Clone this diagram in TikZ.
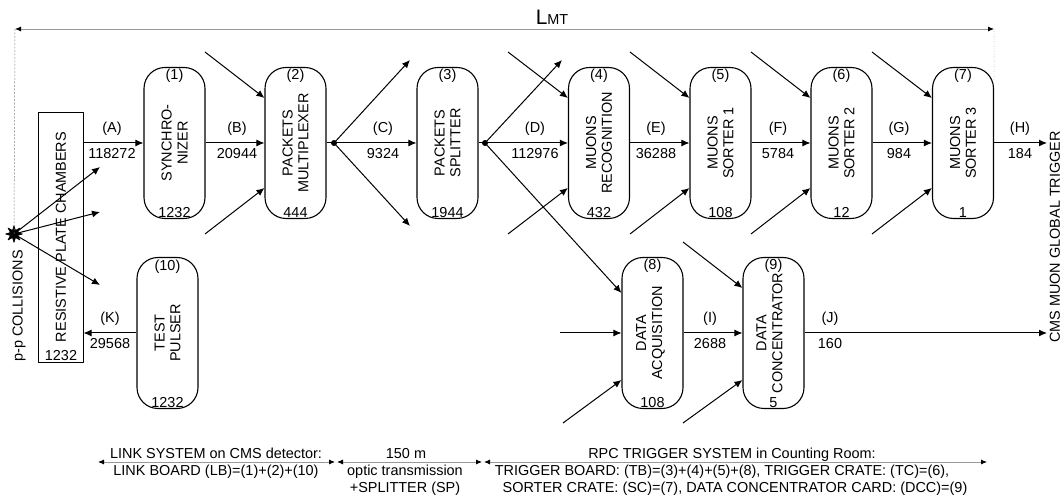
\documentclass[tikz,border=0pt]{standalone}
\usepackage{fontspec}
\setmainfont{Liberation Sans}
\usetikzlibrary{arrows.meta,shapes.geometric}
\tikzset{
  blk/.style={draw,rectangle,rounded corners=21bp,minimum width=61bp,minimum height=151bp,line width=1.1bp},
  rtxt/.style={rotate=90,align=center,inner sep=0pt},
  lbl/.style={anchor=base,inner sep=0pt},
  dim/.style={gray!80,line width=0.8bp,{Latex[length=6bp,width=5bp,color=black]}-{Latex[length=6bp,width=5bp,color=black]}},
}
\begin{document}
\begin{tikzpicture}[>={Latex[length=8bp,width=7bp]},line join=bevel,line width=1bp,font=\fontsize{14.5}{16}\selectfont]
    \useasboundingbox (0bp,0bp) rectangle (1062bp,499bp);
    %%
    \node (pp) at (14bp,265bp) [star,star points=8,star point ratio=2.2,fill,draw,line width=0.6bp,minimum size=17bp,inner sep=0pt] {};
    \node (ppt) at (19bp,193bp) [rtxt] {p-p COLLISIONS};
    \node (rpc) at (60.5bp,261bp) [draw,rectangle,minimum width=45bp,minimum height=250bp,line width=1bp] {};
    \node (rpct) at (61bp,262bp) [rtxt] {RESISTIVE PLATE CHAMBERS};
    \node (rpcn) at (61bp,138bp) [lbl] {1232};
    %
    \node (1) at (174.5bp,356bp) [blk] {};
    \node (2) at (295.5bp,356bp) [blk] {};
    \node (3) at (447.5bp,356bp) [blk] {};
    \node (4) at (599bp,356bp) [blk] {};
    \node (5) at (720.5bp,356bp) [blk] {};
    \node (6) at (841.5bp,356bp) [blk] {};
    \node (7) at (963bp,356bp) [blk] {};
    \node (8) at (652.5bp,166bp) [blk] {};
    \node (9) at (773.5bp,166bp) [blk] {};
    \node (10) at (167.5bp,166bp) [blk] {};
    \node (s1) at (334bp,356bp) [circle,fill,inner sep=0pt,minimum size=6bp] {};
    \node (s2) at (485bp,356bp) [circle,fill,inner sep=0pt,minimum size=6bp] {};
    %
    \node (1t) at (1) [rtxt] {SYNCHRO-\\NIZER};
    \node (2t) at (2) [rtxt] {PACKETS\\MULTIPLEXER};
    \node (3t) at (3) [rtxt] {PACKETS\\SPLITTER};
    \node (4t) at (4) [rtxt] {MUONS\\RECOGNITION};
    \node (5t) at (5) [rtxt] {MUONS\\SORTER 1};
    \node (6t) at (6) [rtxt] {MUONS\\SORTER 2};
    \node (7t) at (7) [rtxt] {MUONS\\SORTER 3};
    \node (8t) at ([xshift=-2bp]8.center) [rtxt] {DATA\\ACQUISITION};
    \node (9t) at ([xshift=-4bp]9.center) [rtxt] {DATA\\CONCENTRATOR};
    \node (10t) at (10) [rtxt] {TEST\\PULSER};
    %
    \node (1a) at ([yshift=-12.5bp]1.north) [lbl] {(1)};
    \node (2a) at ([yshift=-12.5bp]2.north) [lbl] {(2)};
    \node (3a) at ([yshift=-12.5bp]3.north) [lbl] {(3)};
    \node (4a) at ([yshift=-12.5bp]4.north) [lbl] {(4)};
    \node (5a) at ([yshift=-12.5bp]5.north) [lbl] {(5)};
    \node (6a) at ([yshift=-12.5bp]6.north) [lbl] {(6)};
    \node (7a) at ([yshift=-12.5bp]7.north) [lbl] {(7)};
    \node (8a) at ([yshift=-13bp]8.north) [lbl] {(8)};
    \node (9a) at ([yshift=-13bp]9.north) [lbl] {(9)};
    \node (10a) at ([yshift=-14bp]10.north) [lbl] {(10)};
    \node (1b) at ([yshift=1.5bp]1.south) [lbl] {1232};
    \node (2b) at ([yshift=1.5bp]2.south) [lbl] {444};
    \node (3b) at ([yshift=1.5bp]3.south) [lbl] {1944};
    \node (4b) at ([yshift=1.5bp]4.south) [lbl] {432};
    \node (5b) at ([yshift=1.5bp]5.south) [lbl] {108};
    \node (6b) at ([yshift=1.5bp]6.south) [lbl] {12};
    \node (7b) at ([yshift=1.5bp]7.south) [lbl] {1};
    \node (8b) at ([yshift=1.5bp]8.south) [lbl] {108};
    \node (9b) at ([yshift=1.5bp]9.south) [lbl] {5};
    \node (10b) at ([yshift=1.5bp]10.south) [lbl] {1232};
    %
    \coordinate (st1) at (100bp,332bp);
    \coordinate (st2) at (100bp,287bp);
    \coordinate (st3) at (100bp,214bp);
    \coordinate (i2a) at (205bp,447bp);
    \coordinate (i2b) at (205bp,265bp);
    \coordinate (c1a) at (410bp,439bp);
    \coordinate (c1b) at (410bp,273bp);
    \coordinate (c2a) at (562bp,439bp);
    \coordinate (i4a) at (508bp,447bp);
    \coordinate (i4b) at (508bp,265bp);
    \coordinate (i5a) at (630bp,447bp);
    \coordinate (i5b) at (630bp,265bp);
    \coordinate (i6a) at (751bp,447bp);
    \coordinate (i6b) at (751bp,265bp);
    \coordinate (i7a) at (872bp,447bp);
    \coordinate (i7b) at (872bp,265bp);
    \coordinate (i8h) at (560bp,166bp);
    \coordinate (i8b) at (563bp,76bp);
    \coordinate (i9a) at (683bp,257bp);
    \coordinate (i9b) at (683bp,76bp);
    \coordinate (gt1) at (1047bp,356bp);
    \coordinate (gt2) at (1047bp,166bp);
    %
    \draw [->] (pp.center) -- (st1);
    \draw [->] (pp.center) -- (st2);
    \draw [->] (pp.center) -- (st3);
    \draw [->] (rpc.east |- 1.west) -- (1.west);
    \draw [->] (1) -- (2);
    \draw [] (2.east) -- (s1.center);
    \draw [->] (s1.center) -- (3.west);
    \draw [->] (s1.center) -- (c1a);
    \draw [->] (s1.center) -- (c1b);
    \draw [] (3.east) -- (s2.center);
    \draw [->] (s2.center) -- (4.west);
    \draw [->] (s2.center) -- (c2a);
    \draw [->] (s2.center) -- ([yshift=40bp]8.west);
    \draw [->] (4) -- (5);
    \draw [->] (5) -- (6);
    \draw [->] (6) -- (7);
    \draw [->] (7.east) -- (gt1);
    \draw [->] (8) -- (9);
    \draw [->] (9.east) -- (gt2);
    \draw [->] (10.west) -- (10.west -| rpc.east);
    \draw [->] (i2a) -- ([yshift=45bp]2.west);
    \draw [->] (i2b) -- ([yshift=-45bp]2.west);
    \draw [->] (i4a) -- ([yshift=45bp]4.west);
    \draw [->] (i4b) -- ([yshift=-45bp]4.west);
    \draw [->] (i5a) -- ([yshift=45bp]5.west);
    \draw [->] (i5b) -- ([yshift=-45bp]5.west);
    \draw [->] (i6a) -- ([yshift=45bp]6.west);
    \draw [->] (i6b) -- ([yshift=-45bp]6.west);
    \draw [->] (i7a) -- ([yshift=45bp]7.west);
    \draw [->] (i7b) -- ([yshift=-45bp]7.west);
    \draw [->] (i8h) -- (8.west);
    \draw [->] (i8b) -- ([yshift=-47bp]8.west);
    \draw [->] (i9a) -- ([yshift=45bp]9.west);
    \draw [->] (i9b) -- ([yshift=-47bp]9.west);
    %
    \node (lA) at (112bp,366bp) [lbl] {(A)};
    \node (nA) at (112bp,340bp) [lbl] {118272};
    \node (lB) at (237bp,366bp) [lbl] {(B)};
    \node (nB) at (237bp,340bp) [lbl] {20944};
    \node (lC) at (383bp,366bp) [lbl] {(C)};
    \node (nC) at (383bp,340bp) [lbl] {9324};
    \node (lD) at (535bp,366bp) [lbl] {(D)};
    \node (nD) at (535bp,340bp) [lbl] {112976};
    \node (lE) at (656bp,366bp) [lbl] {(E)};
    \node (nE) at (656bp,340bp) [lbl] {36288};
    \node (lF) at (778bp,366bp) [lbl] {(F)};
    \node (nF) at (778bp,340bp) [lbl] {5784};
    \node (lG) at (899bp,366bp) [lbl] {(G)};
    \node (nG) at (899bp,340bp) [lbl] {984};
    \node (lH) at (1020bp,366bp) [lbl] {(H)};
    \node (nH) at (1020bp,340bp) [lbl] {184};
    \node (lK) at (110bp,176bp) [lbl] {(K)};
    \node (nK) at (110bp,150bp) [lbl] {29568};
    \node (lI) at (710bp,176bp) [lbl] {(I)};
    \node (nI) at (710bp,150bp) [lbl] {2688};
    \node (lJ) at (830bp,176bp) [lbl] {(J)};
    \node (nJ) at (830bp,150bp) [lbl] {160};
    \node (gtt) at (1055bp,262bp) [rtxt] {CMS MUON GLOBAL TRIGGER};
    %
    \coordinate (lm1) at (15bp,470bp);
    \coordinate (lm2) at (994bp,470bp);
    \draw [dim] (lm1) -- (lm2);
    \draw [gray,line width=0.5bp,dash pattern=on 2bp off 1.5bp] (lm1) -- (pp.center);
    \draw [gray,line width=0.5bp,dotted] (lm2) -- ([yshift=-14bp]7.north east);
    \node (lmt) at (552bp,474bp) [lbl] {{\fontsize{21}{21}\selectfont L}{\fontsize{14.5}{14.5}\selectfont MT}};
    %
    \coordinate (b0) at (98bp,37bp);
    \coordinate (b1) at (335bp,37bp);
    \coordinate (b2) at (337bp,37bp);
    \coordinate (b3) at (482bp,37bp);
    \coordinate (b4) at (484bp,37bp);
    \coordinate (b5) at (987bp,37bp);
    \draw [dim] (b0) -- (b1);
    \draw [dim] (b2) -- (b3);
    \draw [dim] (b4) -- (b5);
    \node (ls1) at (216bp,40bp) [lbl] {LINK SYSTEM on CMS detector:};
    \node (ls2) at (216bp,24bp) [lbl] {LINK BOARD (LB)=(1)+(2)+(10)};
    \node (ot1) at (406bp,40bp) [lbl] {150 m};
    \node (ot2) at (405bp,24bp) [lbl] {optic transmission};
    \node (ot3) at (405bp,7bp) [lbl] {+SPLITTER (SP)};
    \node (rt1) at (732bp,40bp) [lbl] {RPC TRIGGER SYSTEM in Counting Room:};
    \node (rt2) at (722bp,24bp) [lbl] {TRIGGER BOARD: (TB)=(3)+(4)+(5)+(8), TRIGGER CRATE: (TC)=(6),};
    \node (rt3) at (735bp,7bp) [lbl] {SORTER CRATE: (SC)=(7), DATA CONCENTRATOR CARD: (DCC)=(9)};
    %
\end{tikzpicture}
\end{document}
